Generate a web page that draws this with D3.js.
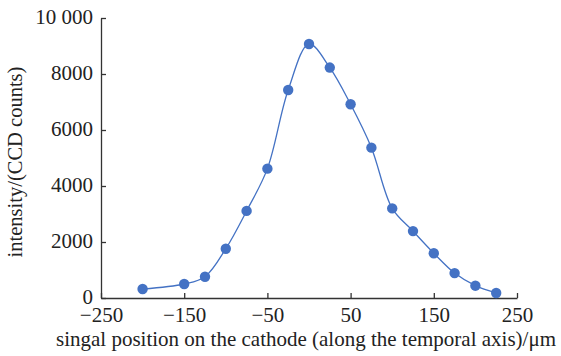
<!DOCTYPE html>
<html lang="en">
<head>
<meta charset="UTF-8">
<title>Signal intensity</title>
<script src="https://d3js.org/d3.v7.min.js"></script>
<style>
  body { margin: 0; background: #fff; }
  text { font-family: "Liberation Serif", "Times New Roman", serif; fill: #222; }
</style>
</head>
<body>
<script>
    const width = 561
    const height = 356

    // signal position (um) and intensity (CCD counts)
    const positions = [-200, -150, -125, -100, -75, -50, -25, 0, 25, 50, 75, 100, 125, 150, 175, 200, 225]
    const intensity = [320, 500, 760, 1760, 3110, 4620, 7430, 9070, 8230, 6920, 5370, 3200, 2390, 1600, 890, 440, 180]
    const xTicks = [-250, -150, -50, 50, 150, 250]
    const yTicks = [0, 2000, 4000, 6000, 8000, 10000]

    const points = positions.map((p, i) => ({x: p, y: intensity[i]}))

    const svg = d3.select("body").append("svg")
        .attr("width", width)
        .attr("height", height)

    const x = d3.scaleLinear().domain([-250, 250]).range([101, 517])
    const y = d3.scaleLinear().domain([0, 10000]).range([298, 18])

    const fmtY = d => d >= 10000 ? d3.format(",")(d).replace(",", " ") : d3.format("")(d)

    const gx = svg.append("g")
        .attr("transform", `translate(0, ${y(0)})`)
        .call(d3.axisBottom(x).tickValues(xTicks).tickSizeInner(-5).tickSizeOuter(0).tickPadding(9))
    const gy = svg.append("g")
        .attr("transform", `translate(${x(-250)}, 0)`)
        .call(d3.axisLeft(y).tickValues(yTicks).tickFormat(fmtY).tickSizeInner(-5).tickSizeOuter(0).tickPadding(8))

    ;[gx, gy].forEach(g => {
        g.selectAll("path, line").attr("stroke", "#333").attr("stroke-width", 1.3)
        g.selectAll("text").attr("font-size", 21).attr("font-family", "Liberation Serif").attr("fill", "#222")
    })
    gy.selectAll("text").attr("dy", "0.28em")

    const line = d3.line()
        .x(d => x(d.x))
        .y(d => y(d.y))
        .curve(d3.curveCatmullRom.alpha(0.5))

    svg.append("path")
        .datum(points)
        .attr("d", line)
        .attr("fill", "none")
        .attr("stroke", "#4472c4")
        .attr("stroke-width", 1.3)

    svg.selectAll(".pt")
        .data(points)
        .enter()
        .append("circle")
        .attr("class", "pt")
        .attr("cx", d => x(d.x))
        .attr("cy", d => y(d.y))
        .attr("r", 5.2)
        .attr("fill", "#4472c4")

    svg.append("text")
        .attr("x", 306)
        .attr("y", 346)
        .attr("text-anchor", "middle")
        .attr("font-size", 21)
        .text("singal position on the cathode (along the temporal axis)/μm")

    svg.append("text")
        .attr("transform", "translate(22, 162) rotate(-90)")
        .attr("text-anchor", "middle")
        .attr("font-size", 20.5)
        .text("intensity/(CCD counts)")
</script>
</body>
</html>
